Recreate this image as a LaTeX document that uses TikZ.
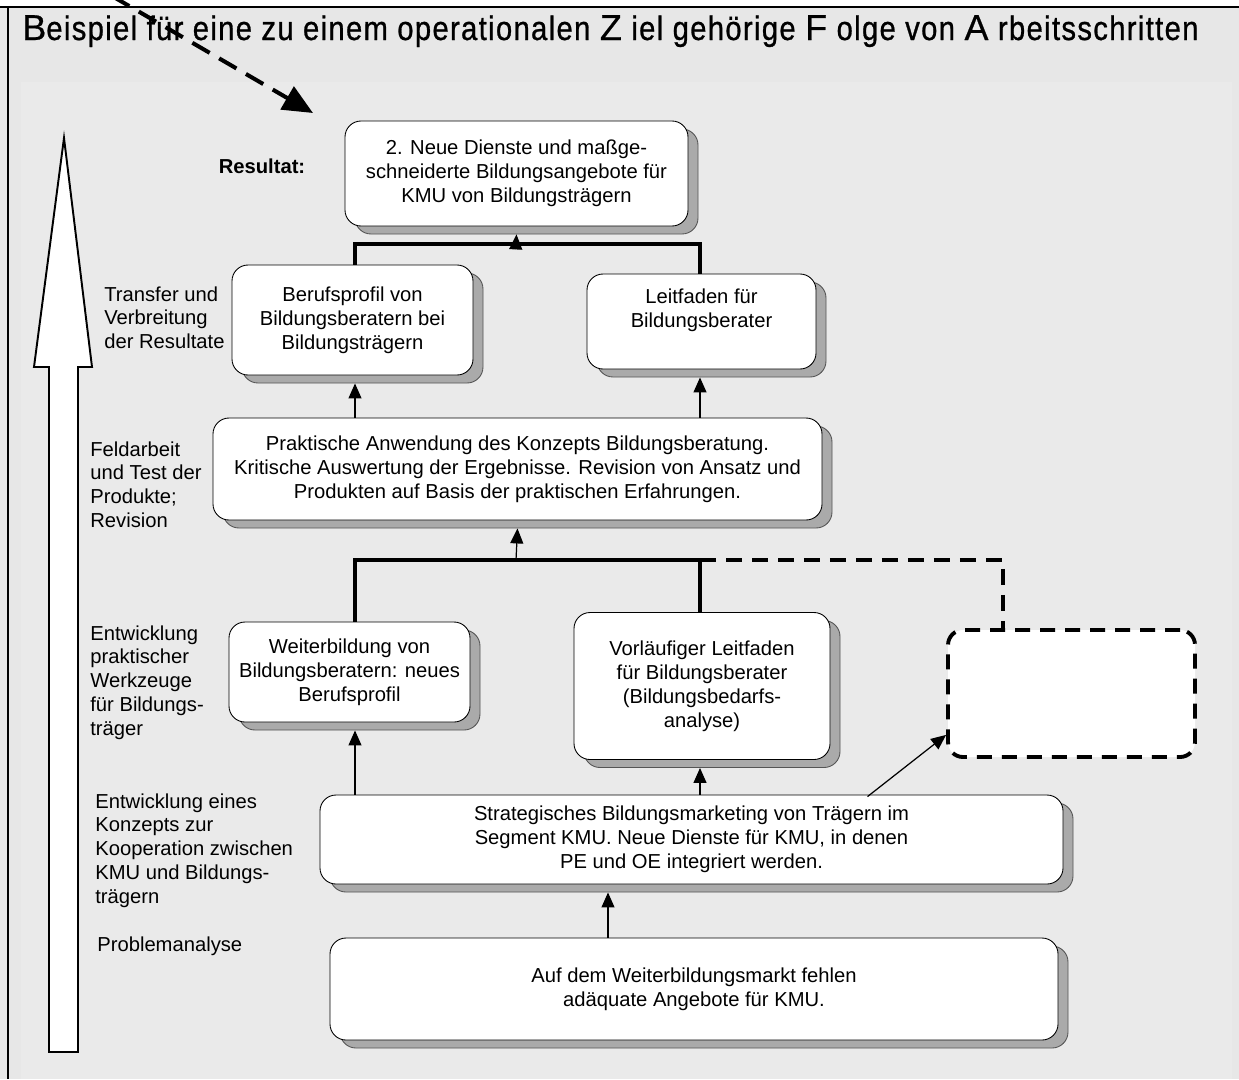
\documentclass[tikz,border=0pt]{standalone}
\usepackage{fontspec}
\setmainfont{Liberation Sans}
\newfontfamily\narrowfont[FakeStretch=0.86,LetterSpace=4,FakeBold=0.8]{Liberation Sans}
\newfontfamily\capfont[FakeBold=0.5]{Liberation Sans}
\usetikzlibrary{arrows.meta,calc,shadows}
\definecolor{outerbg}{HTML}{E7E7E7}
\definecolor{innerbg}{HTML}{EAEAEA}
\definecolor{shadowgray}{HTML}{AAAAAA}
\definecolor{shadowline}{HTML}{555555}
% capitals of the heading in the wide face, lower case in the narrow one
\newcommand\hcap[1]{{\capfont\fontsize{20.5}{22}\selectfont #1}}

\begin{document}
\begin{tikzpicture}[x=0.02cm,y=-0.02cm,
  every node/.style={font=\fontsize{11.5}{13.6}\selectfont, inner sep=0pt},
  sz/.style 2 args={minimum width=#1*0.02cm, minimum height=#2*0.02cm},
  box/.style={draw=black, line width=0.5pt, fill=white, rounded corners=0.32cm, align=center,
    general shadow={shadow xshift=0.2cm, shadow yshift=-0.16cm, fill=shadowgray,
      draw=shadowline, line width=0.5pt}},
  openbox/.style={draw=black, line width=2.2pt, fill=white, rounded corners=0.3cm,
    dash pattern=on 0.3cm off 0.2cm},
  lbl/.style={anchor=north west, align=left},
  bar/.style={line width=2.3pt},
  dashbar/.style={line width=2.3pt, dash pattern=on 0.32cm off 0.2cm},
  arr/.style={line width=0.7pt, -{Triangle[length=0.3cm,width=0.26cm]}},
  bigarr/.style={line width=2.3pt, dash pattern=on 0.4cm off 0.22cm,
    -{Triangle[length=0.6cm,width=0.52cm]}},
  frame/.style={line width=1.1pt}
]
\useasboundingbox (0,0) rectangle (1239,1079);

% background panels and frame
\fill[outerbg] (0,0) rectangle (1239,1079);
\fill[white] (0,0) rectangle (1239,7);
\fill[innerbg] (21,82) rectangle (1232,1079);
\draw[frame] (0,7) -- (1239,7);
\draw[frame] (8,7) -- (8,1079);

% heading
\node[anchor=base west, font=\narrowfont\fontsize{19.3}{21}\selectfont] (title) at (22,40)
  {\hcap{B}eispiel für eine zu einem operationalen \hcap{Z} iel gehörige \hcap{F} olge von \hcap{A} rbeitsschritten};

% hollow arrow on the left
\draw[line width=1.1pt, fill=white]
  (64,138) -- (92,367) -- (78,367) -- (78,1052) -- (49,1052) -- (49,367) -- (34,367) -- cycle;

% stage labels
\node[font=\fontsize{11.5}{13.6}\selectfont\bfseries] (res) at (262,166) {Resultat:};
\node[lbl] (l1) at (104,286) {Transfer und\\Verbreitung\\der Resultate};
\node[lbl] (l2) at (90,441) {Feldarbeit\\und Test der\\Produkte;\\Revision};
\node[lbl] (l3) at (90,625) {Entwicklung\\praktischer\\Werkzeuge\\für Bildungs-\\träger};
\node[lbl] (l4) at (95,793) {Entwicklung eines\\Konzepts zur\\Kooperation zwischen\\KMU und Bildungs-\\trägern};
\node[lbl] (l5) at (97,936) {Problemanalyse};

% step boxes
\node[box, sz={343}{105}] (R) at (516.5,173.5)
  {2. Neue Dienste und maßge-\\schneiderte Bildungsangebote für\\KMU von Bildungsträgern};
\node[box, sz={241}{110}] (B1) at (352.5,320)
  {Berufsprofil von\\Bildungsberatern bei\\Bildungsträgern};
\node[box, sz={229}{95}] (L1) at (701.5,321.5) {};
\node[align=center] (L1t) at (701.5,310) {Leitfaden für\\Bildungsberater};
\node[box, sz={609}{102}] (P) at (517.5,469)
  {Praktische Anwendung des Konzepts Bildungsberatung.\\Kritische Auswertung der Ergebnisse. Revision von Ansatz und\\Produkten auf Basis der praktischen Erfahrungen.};
\node[box, sz={241}{100}] (W) at (349.5,672)
  {Weiterbildung von\\Bildungsberatern: neues\\Berufsprofil};
\node[box, sz={256}{147}] (V) at (702,686)
  {Vorläufiger Leitfaden\\für Bildungsberater\\(Bildungsbedarfs-\\analyse)};
\node[openbox, sz={247}{127}] (D) at (1071.5,693.5) {};
\node[box, sz={743}{89}] (S) at (691.5,839.5)
  {Strategisches Bildungsmarketing von Trägern im\\Segment KMU. Neue Dienste für KMU, in denen\\PE und OE integriert werden.};
\node[box, sz={728}{102}] (Pr) at (694,989)
  {Auf dem Weiterbildungsmarkt fehlen\\adäquate Angebote für KMU.};

% connector columns and junctions
\coordinate (c1) at (355,0);
\coordinate (c2) at (700,0);
\coordinate (c4) at (1003,0);
\coordinate (j1) at (516,244);
\coordinate (j2) at (516,560);

% upper junction: B1 and L1 lead to the result
\draw[bar] (c1 |- B1.north) -- (c1 |- j1) -- (c2 |- j1) -- (c2 |- L1.north);
\draw[arr] (j1) -- ($(R.south)+(0,8)$);

% from field work to the two products
\draw[arr] (c1 |- P.north) -- ($(c1 |- B1.south)+(0,8)$);
\draw[arr] (c2 |- P.north) -- ($(c2 |- L1.south)+(0,8)$);

% lower junction: tools lead to field work
\draw[bar] (c1 |- W.north) -- (c1 |- j2) -- (c2 |- j2) -- (c2 |- V.north);
\draw[dashbar] (c2 |- j2) -- (c4 |- j2) -- (c4 |- D.north);
\draw[arr] (j2) -- ($(P.south)+(0,8)$);

% from the concept to the tools
\draw[arr] (c1 |- S.north) -- ($(c1 |- W.south)+(0,8)$);
\draw[arr] (c2 |- S.north) -- ($(c2 |- V.south)+(0,8)$);
\draw[arr] ($(S.north)+(176,2)$) -- ($(D.south west)+(0,-24)$);

% from the problem analysis to the concept
\draw[arr] ($(Pr.north)+(-86,0)$) -- ($(Pr.north |- S.south)+(-86,8)$);

% pointer to the result
\coordinate (a0) at (112,-4);
\coordinate (at) at (313,113);
\draw[bigarr] (a0) -- (at);
\end{tikzpicture}
\end{document}
